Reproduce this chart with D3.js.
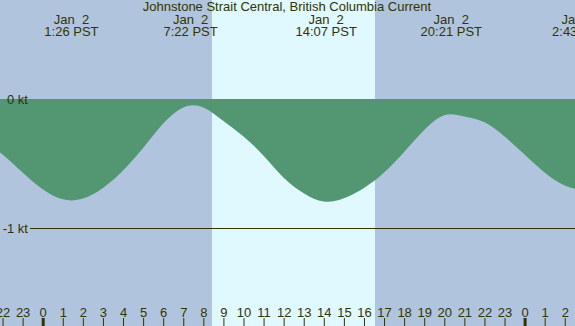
<!DOCTYPE html>
<html><head><meta charset="utf-8">
<script src="https://cdn.jsdelivr.net/npm/d3@7/dist/d3.min.js"></script>
<style>html,body{margin:0;padding:0;background:#b0c4de;}svg{display:block;}</style>
</head><body>
<script>
const title = "Johnstone Strait Central, British Columbia Current";
// hours since midnight Jan 2 PST, current in knots
const hours  = [-3,-2,-1,0,1,2,3,4,5,6,7,8,9,10,11,12,13,14,15,16,17,18,19,20,21,22,23,24,25,26,27,28];
const speeds = [-0.32,-0.43,-0.57,-0.70,-0.778,-0.772,-0.69,-0.555,-0.38,-0.19,-0.065,-0.065,-0.17,-0.29,-0.44,-0.61,-0.73,-0.795,-0.77,-0.69,-0.57,-0.41,-0.24,-0.125,-0.135,-0.18,-0.29,-0.43,-0.57,-0.67,-0.70,-0.66];
const eventHours = [1.433, 7.367, 14.117, 20.35, 26.717];
const eventDates = ["Jan  2","Jan  2","Jan  2","Jan  2","Jan  3"];
const eventTimes = ["1:26 PST","7:22 PST","14:07 PST","20:21 PST","2:43 PST"];
const sunrise = 8.43, sunset = 16.55;
const yTicks = [0, -1];
const yTickLabels = ["0 kt", "-1 kt"];
const hourTicks = d3.range(-2, 27);

const W = 575, H = 326;
const x = d3.scaleLinear().domain([0, 24]).range([42.7, 524.6]);
const y = d3.scaleLinear().domain([0, -1]).range([99, 228]);
const ink = "#333300";
const FS = 13;

const svg = d3.select("body").append("svg").attr("width", W).attr("height", H)
  .style("font-family", "'Liberation Sans', Arial, sans-serif");

svg.append("rect").attr("width", W).attr("height", H).attr("fill", "#b0c4de");
svg.append("rect").attr("x", x(sunrise)).attr("y", 0)
  .attr("width", x(sunset) - x(sunrise)).attr("height", H).attr("fill", "#e0f8ff");

const area = d3.area().x((d,i)=>x(hours[i])).y0(y(0)).y1((d)=>y(d)).curve(d3.curveNatural);
svg.append("path").datum(speeds).attr("d", area).attr("fill", "#529672");

// -1 kt line
svg.append("line").attr("x1", 30).attr("x2", W).attr("y1", y(-1)+0.5).attr("y2", y(-1)+0.5)
  .attr("stroke", ink).attr("stroke-width", 1);

svg.selectAll("text.yl").data(yTicks).enter().append("text")
  .attr("x", 28).attr("y", d=>y(d)+5).attr("text-anchor","end")
  .attr("font-size", FS).attr("fill", ink).text((d,i)=>yTickLabels[i]);

svg.append("text").attr("x", 287).attr("y", 11).attr("text-anchor","middle")
  .attr("font-size", FS).attr("fill", ink).text(title);

const ev = svg.selectAll("g.ev").data(eventHours).enter().append("g");
ev.append("text").attr("x", d=>x(d)).attr("y", 24).attr("text-anchor","middle")
  .attr("font-size", FS).attr("fill", ink).style("white-space","pre")
  .text((d,i)=>eventDates[i]);
ev.append("text").attr("x", d=>x(d)).attr("y", 36).attr("text-anchor","middle")
  .attr("font-size", FS).attr("fill", ink).text((d,i)=>eventTimes[i]);

// bottom hour axis
const axis = d3.axisBottom(x).tickValues(hourTicks).tickSize(8)
  .tickFormat(d => String(((d % 24) + 24) % 24));
const g = svg.append("g").attr("transform", "translate(0,318)").call(axis);
g.select(".domain").remove();
g.selectAll(".tick line").attr("stroke", ink)
  .attr("stroke-width", d => (d % 24 === 0) ? 3 : 1);
g.selectAll(".tick text").attr("fill", ink).attr("font-size", FS)
  .attr("y", -1).attr("dy", 0)
  .style("font-family", "'Liberation Sans', Arial, sans-serif");
</script>
</body></html>
